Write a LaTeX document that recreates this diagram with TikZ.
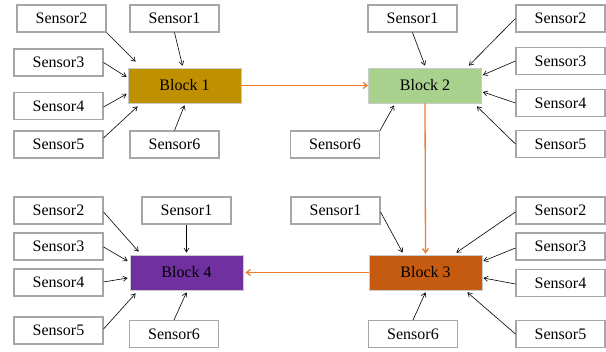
\documentclass[tikz,border=0pt]{standalone}
\usepackage{fontspec}
\setmainfont{Liberation Serif}
\usetikzlibrary{arrows.meta,calc}
\definecolor{bgold}{HTML}{BF9000}
\definecolor{bgreen}{HTML}{A9D18E}
\definecolor{brust}{HTML}{C55A11}
\definecolor{bpurple}{HTML}{7030A0}
\definecolor{link}{HTML}{ED7D31}
\definecolor{frame}{HTML}{A6A6A6}
\tikzset{
  sensor/.style={draw=frame, line width=1.1pt, fill=white, minimum width=89pt, minimum height=27pt, inner sep=0pt, font=\fontsize{16}{18}\selectfont},
  block/.style={draw=frame!60, line width=0.8pt, minimum width=113pt, minimum height=35pt, inner sep=0pt, font=\fontsize{16}{18}\selectfont},
  sarr/.style={draw=black, line width=0.6pt, -{Straight Barb[length=4pt,width=5pt]}},
  flow/.style={draw=link, line width=1.3pt, -{Straight Barb[length=4pt,width=6pt]}}
}
\begin{document}
\begin{tikzpicture}[x=1pt,y=-1pt]
\useasboundingbox (0,0) rectangle (606,352);
% Group 1
\node[block, fill=bgold] (b1) at (184.5,85.5) {Block 1};
\node[sensor] (a2) at (61.5,18.5) {Sensor2};
\node[sensor] (a1) at (174.5,18.5) {Sensor1};
\node[sensor] (a3) at (58.5,62.5) {Sensor3};
\node[sensor] (a4) at (58.5,106) {Sensor4};
\node[sensor] (a5) at (58.5,144.5) {Sensor5};
\node[sensor] (a6) at (174.5,144.5) {Sensor6};
% Group 2
\node[block, fill=bgreen] (b2) at (425,85.5) {Block 2};
\node[sensor] (c1) at (412.5,18.5) {Sensor1};
\node[sensor] (c2) at (560.5,18.5) {Sensor2};
\node[sensor] (c3) at (560.5,61) {Sensor3};
\node[sensor] (c4) at (560.5,103) {Sensor4};
\node[sensor] (c5) at (560.5,144) {Sensor5};
\node[sensor] (c6) at (335,144.5) {Sensor6};
% Group 3
\node[block, fill=brust] (b3) at (425.5,272.5) {Block 3};
\node[sensor] (e1) at (335.5,210.5) {Sensor1};
\node[sensor] (e2) at (560.5,210.5) {Sensor2};
\node[sensor] (e3) at (560.5,246.5) {Sensor3};
\node[sensor] (e4) at (560.5,283) {Sensor4};
\node[sensor] (e5) at (560.5,334) {Sensor5};
\node[sensor] (e6) at (413,334) {Sensor6};
% Group 4
\node[block, fill=bpurple] (b4) at (186.5,272.5) {Block 4};
\node[sensor] (d2) at (58.5,210.5) {Sensor2};
\node[sensor] (d1) at (186.5,210.5) {Sensor1};
\node[sensor] (d3) at (58.5,246.5) {Sensor3};
\node[sensor] (d4) at (58.5,282.5) {Sensor4};
\node[sensor] (d5) at (58.5,330.5) {Sensor5};
\node[sensor] (d6) at (174,334) {Sensor6};
% Arrows group 1
\draw[sarr] (a2.south east) -- ($(b1.north west)+(8,-6)$);
\draw[sarr] (a1.south) -- ($(b1.north)+(-2,-2)$);
\draw[sarr] (a3.east) -- ($(b1.west)+(-1,-8.5)$);
\draw[sarr] ($(a4.east)+(0,1)$) -- ($(b1.west)+(-1,8.5)$);
\draw[sarr] ($(a5.east)+(0,-6.5)$) -- ($(b1.south west)+(10,3)$);
\draw[sarr] (a6.north) -- ($(b1.south)+(0,2)$);
% Arrows group 2
\draw[sarr] (c1.south) -- ($(b2.north)+(0,-2)$);
\draw[sarr] (c2.west) -- ($(b2.north east)+(-13,-2)$);
\draw[sarr] (c3.west) -- ($(b2.east)+(1,-10.5)$);
\draw[sarr] (c4.west) -- ($(b2.east)+(1,6.5)$);
\draw[sarr] (c5.west) -- ($(b2.south east)+(-5,3)$);
\draw[sarr] (c6.north east) -- ($(b2.south west)+(26,2)$);
% Arrows group 3
\draw[sarr] ($(e1.east)+(0,1.5)$) -- ($(b3.north west)+(34,-2)$);
\draw[sarr] ($(e2.west)+(0,1.5)$) -- ($(b3.north east)+(-26,-2)$);
\draw[sarr] ($(e3.west)+(0,1.5)$) -- ($(b3.east)+(1,-11.5)$);
\draw[sarr] ($(e4.west)+(0,1)$) -- ($(b3.east)+(1,5.5)$);
\draw[sarr] (e5.west) -- ($(b3.south east)+(-15,2)$);
\draw[sarr] (e6.north) -- ($(b3.south)+(0,2)$);
% Arrows group 4
\draw[sarr] ($(d2.east)+(0,1.5)$) -- ($(b4.north west)+(9,-3)$);
\draw[sarr] (d1.south) -- ($(b4.north)+(0,-2)$);
\draw[sarr] ($(d3.east)+(0,0.5)$) -- ($(b4.west)+(-2,-11.5)$);
\draw[sarr] ($(d4.east)+(0,-0.5)$) -- ($(b4.west)+(-2,5.5)$);
\draw[sarr] ($(d5.east)+(0,-1.5)$) -- ($(b4.south west)+(6,3)$);
\draw[sarr] (d6.north) -- ($(b4.south)+(0,2)$);
% Flow
\draw[flow] (b1.east) -- (b2.west);
\draw[flow] (b2.south) -- ($(b3.north)+(0,-1)$);
\draw[flow] (b3.west) -- ($(b4.east)+(2,0)$);
\end{tikzpicture}
\end{document}
